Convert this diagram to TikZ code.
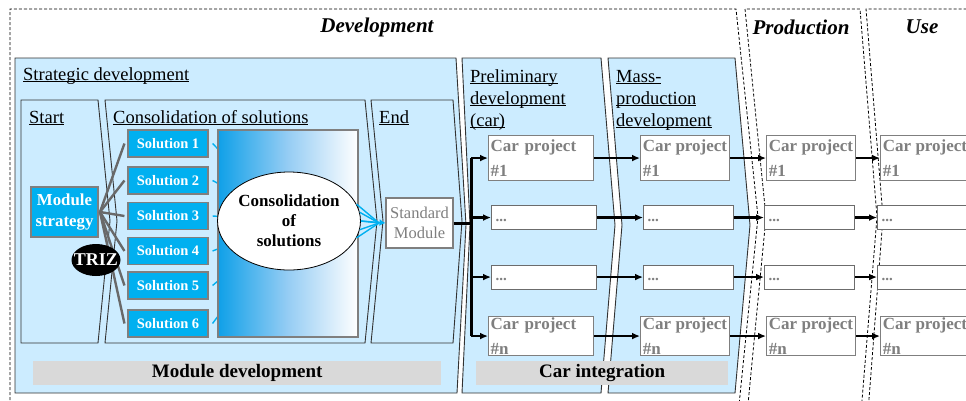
\documentclass[tikz,border=0pt]{standalone}
\usepackage{fontspec}
\setmainfont{Liberation Serif}
\usetikzlibrary{shapes.geometric,arrows.meta}
\definecolor{phaseblue}{RGB}{204,236,255}
\definecolor{solcyan}{RGB}{0,176,240}
\definecolor{boxgray}{RGB}{127,127,127}
\definecolor{bargray}{RGB}{217,217,217}
\definecolor{linegray}{RGB}{105,105,105}
\definecolor{gradleft}{RGB}{15,160,232}
\definecolor{gradmid}{RGB}{150,205,244}
\definecolor{outline}{RGB}{50,50,50}
\begin{document}
\begin{tikzpicture}[x=1pt,y=-1pt,
  dashbox/.style={draw=black, line width=0.8pt, dash pattern=on 3pt off 2pt},
  phase/.style={draw=outline, fill=phaseblue, line width=0.9pt},
  heading/.style={font={\fontsize{21}{24}\selectfont\bfseries\itshape}, inner sep=0pt},
  seclabel/.style={font={\fontsize{18.5}{22}\selectfont}, anchor=base west, inner sep=0pt, align=left},
  solbox/.style={draw=boxgray, fill=solcyan, line width=1.1pt, text=white,
    font={\fontsize{14.5}{17}\selectfont\bfseries}, minimum width=80pt, minimum height=27pt, inner sep=0pt},
  carbox/.style={draw=boxgray, fill=white, line width=1.1pt, text=boxgray,
    font={\fontsize{17}{25}\selectfont\bfseries}, align=left, minimum height=45pt, inner xsep=2pt, inner ysep=0pt, anchor=north west},
  dotbox/.style={draw=boxgray!85!black, fill=white, line width=1.1pt, text=boxgray,
    font={\fontsize{15}{18}\selectfont\bfseries}, align=left, minimum height=24pt, inner xsep=4pt, inner ysep=0pt, anchor=north west},
  bar/.style={fill=bargray, font={\fontsize{19}{22}\selectfont\bfseries}, inner sep=0pt, minimum height=24pt, anchor=north west},
  grayline/.style={draw=linegray, line width=2.4pt},
  cyanline/.style={draw=solcyan, line width=1.4pt},
  arr/.style={draw=black, line width=2.2pt, -{Latex[length=8pt,width=7pt]}},
  busline/.style={draw=black, line width=3pt}
]
\useasboundingbox (0,0) rectangle (966,400);
\clip (0,0) rectangle (966,400);

% outer dashed phases
\draw[dashbox] (10,430) -- (10,9) -- (736,9) -- (758,217) -- (737,425) -- (737,430);
\draw[dashbox] (746,430) -- (746,425) -- (766,217) -- (745,9) -- (860,9) -- (877,217) -- (860,425) -- (860,430);
\draw[dashbox] (867,430) -- (867,425) -- (883,217) -- (866,9) -- (990,9);

\node[heading] (hdev) at (377,27) {Development};
\node[heading] (hprod) at (801,27) {Production};
\node[heading] (huse) at (922,27) {Use};

% phase chevrons
\draw[phase] (15,58) -- (456,58) -- (466,225) -- (457,393) -- (15,393) -- cycle;
\draw[phase] (462,58) -- (601,58) -- (615,225) -- (601,393) -- (462,393) -- (470,225) -- cycle;
\draw[phase] (608,58) -- (735,58) -- (750,225) -- (735,393) -- (608,393) -- (622,225) -- cycle;

\draw[phase] (21,100) -- (98,100) -- (110,221) -- (98,343) -- (21,343) -- cycle;
\draw[phase] (105,100) -- (365,100) -- (377,221) -- (365,343) -- (105,343) -- (117,221) -- cycle;
\draw[phase] (371,100) -- (453,100) -- (462,221) -- (453,343) -- (371,343) -- (383,221) -- cycle;

% section labels
\node[seclabel] (lstrat) at (23,80) {\underbar{Strategic development}};
\node[seclabel] (lstart) at (29,123) {\underbar{Start}};
\node[seclabel] (lcons) at (113,123) {\underbar{Consolidation of solutions}};
\node[seclabel] (lend) at (379,123) {\underbar{End}};
\node[seclabel] (lprel) at (470,126) {\underbar{Preliminary}\\\underbar{development}\\\underbar{(car)}};
\node[seclabel] (lmass) at (616,126) {\underbar{Mass-}\\\underbar{production}\\\underbar{development}};

% bars
\node[bar, minimum width=408pt] (bmod) at (33,361) {Module development};
\node[bar, minimum width=252pt] (bcar) at (476,361) {Car integration};

% module strategy and solutions
\node[draw=boxgray, fill=solcyan, line width=1.1pt, text=white, align=center,
  font={\fontsize{16.8}{21}\selectfont\bfseries}, minimum width=67pt, minimum height=50pt, inner sep=0pt]
  (ms) at (64.5,212) {Module\\strategy};

\node[solbox] (s1) at (168,143.5) {Solution 1};
\node[solbox] (s2) at (168,180.5) {Solution 2};
\node[solbox] (s3) at (168,216) {Solution 3};
\node[solbox] (s4) at (168,251) {Solution 4};
\node[solbox] (s5) at (168,285.5) {Solution 5};
\node[solbox] (s6) at (168,323.5) {Solution 6};

\coordinate (hub) at (100,212);
\foreach \s in {s1,s2,s3,s4,s5,s6}{
  \draw[grayline] (hub) -- ([xshift=-3pt]\s.west);
}
\fill[black] (96,260) ellipse [x radius=24.5, y radius=16];
\node[text=white, font={\fontsize{18}{20}\selectfont\bfseries}, inner sep=0pt] (triz) at (96,260) {TRIZ};

% hidden cyan links to the consolidation ellipse
\coordinate (ellc) at (289,221);
\foreach \s in {s1,s2,s3,s4,s5,s6}{
  \draw[cyanline] ([xshift=4pt]\s.east) -- (ellc);
}
\shade[left color=gradleft, right color=white, middle color=gradmid] (218,130) rectangle (358,337);
\draw[boxgray, line width=1.1pt] (218,130) rectangle (358,337);

\node[ellipse, draw=black, fill=white, line width=0.8pt, minimum width=142pt, minimum height=98pt, inner sep=0pt,
  align=center, font={\fontsize{17}{20}\selectfont\bfseries}] (ell) at (ellc) {Consolidation\\of\\solutions};

\node[draw=boxgray, fill=white, line width=1.1pt, text=boxgray, align=center,
  font={\fontsize{16.5}{20}\selectfont}, minimum width=67pt, minimum height=50pt, inner sep=0pt]
  (sm) at (419.5,223) {Standard\\Module};

\coordinate (fan) at (379,223);
\foreach \a in {-14,-7,0,7,14}{
  \draw[cyanline] (ell.\a) -- (fan);
}
\draw[draw=solcyan, line width=1.4pt, -{Latex[length=6pt,width=7pt]}] (ell.east) -- (sm.west);

% car project boxes
\node[carbox, minimum width=105pt, text width=101pt] (p1) at (488,135) {Car project\\\#1};
\node[dotbox, minimum width=105pt, text width=97pt] (p2) at (491,205) {...\strut};
\node[dotbox, minimum width=105pt, text width=97pt] (p3) at (491,264.5) {...\strut};
\node[carbox, minimum width=105pt, text width=101pt, minimum height=39pt] (pn) at (488,316) {Car project\\\#n};

\node[carbox, minimum width=89pt] (m1) at (640,135) {Car project\\\#1};
\node[dotbox, minimum width=90pt, text width=82pt] (m2) at (643,205) {...\strut};
\node[dotbox, minimum width=90pt, text width=82pt] (m3) at (643,264.5) {...\strut};
\node[carbox, minimum width=89pt, minimum height=39pt] (mn) at (640,316) {Car project\\\#n};

\node[carbox, minimum width=89pt] (r1) at (766,135) {Car project\\\#1};
\node[dotbox, minimum width=90pt, text width=82pt] (r2) at (764,205) {...\strut};
\node[dotbox, minimum width=90pt, text width=82pt] (r3) at (764,264.5) {...\strut};
\node[carbox, minimum width=89pt, minimum height=39pt] (rn) at (766,316) {Car project\\\#n};

\node[carbox, minimum width=89pt] (u1) at (880,135) {Car project\\\#1};
\node[dotbox, minimum width=90pt, text width=82pt] (u2) at (877,205) {...\strut};
\node[dotbox, minimum width=90pt, text width=82pt] (u3) at (877,264.5) {...\strut};
\node[carbox, minimum width=89pt, minimum height=39pt] (un) at (880,316) {Car project\\\#n};

% bus from standard module
\coordinate (bus) at (471,223);
\draw[busline] (sm.east) -- (bus);
\draw[busline] (bus |- p1.west) -- (bus |- pn.west);
\foreach \b in {p1,p2,p3,pn}{
  \draw[arr] (bus |- \b.west) -- (\b.west);
}

% row arrows
\draw[arr] (p1.east) -- (m1.west);
\draw[arr] (p2.east) -- (m2.west);
\draw[arr] (p3.east) -- (m3.west);
\draw[arr] (pn.east) -- (mn.west);
\draw[arr] (m1.east) -- (r1.west);
\draw[arr] (m2.east) -- (r2.west);
\draw[arr] (m3.east) -- (r3.west);
\draw[arr] (mn.east) -- (rn.west);
\draw[arr] (r1.east) -- (u1.west);
\draw[arr] (r2.east) -- (u2.west);
\draw[arr] (r3.east) -- (u3.west);
\draw[arr] (rn.east) -- (un.west);
\end{tikzpicture}
\end{document}
